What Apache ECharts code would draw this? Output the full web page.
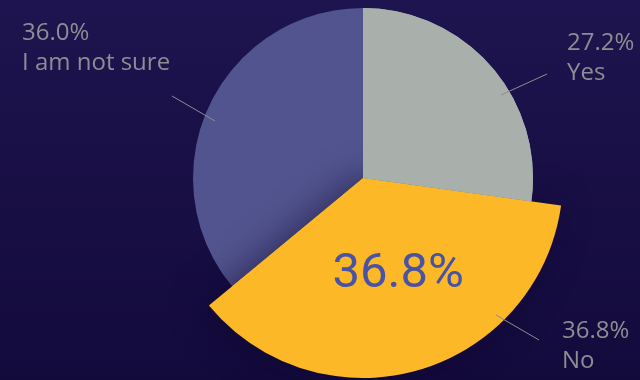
<!DOCTYPE html>
<html>
<head>
<meta charset="utf-8">
<script src="https://cdn.jsdelivr.net/npm/echarts@6/dist/echarts.min.js"></script>
<style>
  html, body { margin: 0; padding: 0; background: #1a1048; }
  #chart { width: 640px; height: 380px; }
</style>
</head>
<body>
<div id="chart"></div>
<script>
// Survey answers, in percent
var answers = ['Yes', 'No', 'I am not sure'];
var shares = [27.2, 36.8, 36.0];
var sliceColors = ['#a9b0ac', '#fdb827', '#52548f'];
// the answer drawn raised above the others
var highlighted = 'No';
// slices painted again over the raised slice's shadow
var unshaded = ['Yes'];

// label anchors: text top-left corner and the leader line ends
var labelSpots = {
  'Yes':           { x: 567, y: 28,  line: [[501, 95], [547, 74]] },
  'No':            { x: 562, y: 316, line: [[496, 315], [539, 340]] },
  'I am not sure': { x: 22,  y: 18,  line: [[215, 121], [172, 96]] }
};

var center = [363, 178];
var clear = 'rgba(0,0,0,0)';

function pieData(visible) {
  return answers.map(function (name, i) {
    var shown = visible.indexOf(name) >= 0;
    return {
      name: name,
      value: shares[i],
      itemStyle: shown ? { color: sliceColors[i] } : { color: clear, shadowBlur: 0 }
    };
  });
}

function basePie(z, radius) {
  return {
    type: 'pie',
    center: center,
    radius: radius,
    startAngle: 90,
    clockwise: true,
    silent: true,
    z: z,
    label: { show: false },
    labelLine: { show: false }
  };
}

var chart = echarts.init(document.getElementById('chart'));
chart.setOption({
  backgroundColor: {
    type: 'linear', x: 0, y: 0, x2: 0, y2: 1,
    colorStops: [{ offset: 0, color: '#1e144f' }, { offset: 1, color: '#130a3c' }]
  },
  animation: false,
  series: [
    // full pie
    Object.assign(basePie(2, 170), { data: pieData(answers) }),
    // raised slice with its big value
    Object.assign(basePie(3, 200), {
      data: pieData([highlighted]).map(function (d) {
        if (d.name !== highlighted) d.label = { show: false };
        return d;
      }),
      itemStyle: {
        shadowBlur: 34,
        shadowOffsetX: -6,
        shadowColor: 'rgba(12,6,40,0.5)'
      },
      label: {
        show: true,
        position: 'inside',
        formatter: function (p) { return p.value.toFixed(1) + '%'; },
        color: '#4853a6',
        fontFamily: 'Roboto',
        fontSize: 49
      },
      labelLayout: { dx: 7, dy: -2 }
    }),
    // slices kept free of that shadow
    Object.assign(basePie(4, 170), { data: pieData(unshaded) }),
    // outer labels with leader lines, drawn on top
    Object.assign(basePie(5, 170), {
      data: pieData([]),
      label: {
        show: true,
        position: 'outside',
        formatter: function (p) { return p.value.toFixed(1) + '%\n' + p.name; },
        align: 'left',
        color: '#8d8d93',
        fontFamily: 'Open Sans',
        fontSize: 24,
        lineHeight: 30
      },
      labelLine: { show: true, lineStyle: { color: '#8d8d93', width: 1 } },
      labelLayout: function (p) {
        var spot = labelSpots[answers[p.dataIndex]];
        return {
          x: spot.x, y: spot.y, align: 'left', verticalAlign: 'top',
          labelLinePoints: [spot.line[0], spot.line[1], spot.line[1]]
        };
      }
    })
  ]
});
</script>
</body>
</html>
